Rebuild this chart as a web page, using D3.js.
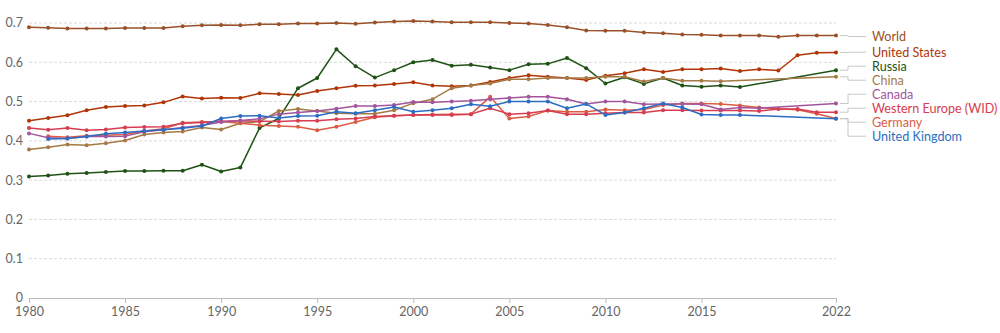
<!DOCTYPE html>
<html>
<head>
<meta charset="utf-8">
<script src="https://cdn.jsdelivr.net/npm/d3@7"></script>
<style>
  html, body { margin: 0; padding: 0; background: #fff; }
  svg { display: block; font-family: Lato, "Open Sans", sans-serif; }
</style>
</head>
<body>
<svg id="chart" width="1000" height="333"></svg>
<script>
// ---- data ----
const years = [1980,1981,1982,1983,1984,1985,1986,1987,1988,1989,
               1990,1991,1992,1993,1994,1995,1996,1997,1998,1999,
               2000,2001,2002,2003,2004,2005,2006,2007,2008,2009,
               2010,2011,2012,2013,2014,2015,2016,2017,2018,2019,
               2020,2021,2022];

const world = [.689,.688,.686,.686,.686,.687,.687,.687,.692,.694,
               .695,.694,.697,.697,.699,.699,.700,.698,.701,.704,
               .705,.704,.702,.702,.702,.700,.699,.695,.689,.681,
               .680,.680,.676,.674,.671,.670,.668,.668,.668,.665,
               .668,.668,.668];
const unitedStates = [.451,.458,.465,.478,.486,.489,.490,.498,.513,.508,
               .510,.509,.521,.519,.517,.527,.534,.540,.541,.545,
               .549,.541,.539,.541,.550,.560,.567,.563,.560,.555,
               .566,.572,.582,.575,.582,.582,.584,.578,.582,.579,
               .618,.624,.625];
const russia = [.309,.312,.316,.318,.321,.323,.323,.324,.324,.339,
               .322,.332,.433,.457,.534,.560,.633,.590,.561,.580,
               .600,.606,.591,.594,.587,.580,.595,.596,.611,.585,
               .546,.562,.545,.560,.541,.538,.541,.537,null,null,
               null,null,.580];
const china = [.378,.384,.391,.389,.394,.401,.416,.421,.424,.434,
               .429,.445,.449,.476,.481,.476,.470,.469,.469,.478,
               .496,.506,.534,.541,.546,.557,.557,.560,.560,.560,
               .563,.563,.551,.560,.553,.553,.552,null,null,null,
               null,null,.563];
const canada = [.419,.408,.406,.411,.411,.412,.423,.428,.434,.439,
               .448,.452,.456,.468,.472,.476,.482,.489,.489,.491,
               .499,.498,.500,.502,.506,.509,.512,.512,.506,.494,
               .500,.500,.493,.494,.494,.493,.480,.485,.483,null,
               null,null,.495];
const westernEurope = [.433,.428,.433,.427,.429,.434,.435,.436,.445,.447,
               .450,.451,.450,.449,.451,.451,.455,.457,.462,.464,
               .466,.466,.466,.468,.483,.468,.470,.477,.468,.468,
               .470,.472,.472,.478,.478,.477,.477,.477,.476,.481,
               .481,.473,.473];
const germany = [null,.412,.409,.413,.414,.416,.425,.431,.446,.448,
               .449,.445,.440,.438,.436,.427,.436,.448,.460,.464,
               .466,.467,.468,.468,.512,.457,.462,.477,.474,.474,
               .480,.478,.480,.491,.495,.495,.494,.490,.485,.482,
               .479,.469,.457];
const unitedKingdom = [null,.405,.406,.411,.418,.421,.425,.428,.432,.438,
               .457,.463,.464,.458,.463,.464,.474,.470,.478,.486,
               .474,.478,.483,.493,.488,.500,.500,.500,.483,.494,
               .466,.472,.483,.495,.485,.467,.466,.466,null,null,
               null,null,.456];

const seriesNames = ["World","United States","Russia","China","Canada","Western Europe (WID)","Germany","United Kingdom"];
const seriesValues = [world, unitedStates, russia, china, canada, westernEurope, germany, unitedKingdom];
const seriesColors = ["#9A5129","#B13507","#1f5316","#A57A45","#A2559C","#D73C50","#DA5D43","#2C6DC2"];

const yTicks = [0, 0.1, 0.2, 0.3, 0.4, 0.5, 0.6, 0.7];
const xTicks = [1980, 1985, 1990, 1995, 2000, 2005, 2010, 2015, 2022];

// ---- chart ----
const svg = d3.select("#chart");
const x = d3.scaleLinear().domain([1980, 2022]).range([29, 836]);
const y = d3.scaleLinear().domain([0, 0.7]).range([298, 23]);

// grid lines
const grid = svg.append("g");
grid.selectAll("line").data(yTicks.filter(d => d > 0)).join("line")
  .attr("x1", x(1980)).attr("x2", x(2022))
  .attr("y1", d => y(d)).attr("y2", d => y(d))
  .attr("stroke", "#dadada").attr("stroke-width", 1)
  .attr("stroke-dasharray", "3,2");

// y labels
svg.append("g").selectAll("text").data(yTicks).join("text")
  .attr("x", 23).attr("y", d => y(d)).attr("dy", "0.35em")
  .attr("text-anchor", "end")
  .attr("fill", "#666").attr("font-size", 12.5)
  .text(d => d === 0 ? "0" : d3.format(".1f")(d));

// x axis
const xAxis = d3.axisBottom(x).tickValues(xTicks).tickFormat(d3.format("d")).tickSizeOuter(0).tickSize(5);
const gx = svg.append("g").attr("transform", "translate(0,298)").call(xAxis);
gx.select(".domain").attr("stroke", "#bbb");
gx.selectAll(".tick line").attr("stroke", "#bbb");
gx.selectAll(".tick text").attr("fill", "#666").attr("font-size", 12.5)
  .attr("font-family", "Lato, sans-serif").attr("y", 9);

// lines
const line = d3.line().x(d => x(d.year)).y(d => y(d.value));
const series = seriesNames.map((name, i) => ({
  name, color: seriesColors[i],
  points: years.map((yr, j) => ({ year: yr, value: seriesValues[i][j] })).filter(p => p.value !== null)
}));

const drawOrder = [0, 1, 2, 3, 6, 5, 4, 7];
drawOrder.forEach(i => {
  const s = series[i];
  const g = svg.append("g");
  g.append("path").datum(s.points)
    .attr("d", line).attr("fill", "none")
    .attr("stroke", s.color).attr("stroke-width", 1.5)
    .attr("stroke-linejoin", "round");
  g.selectAll("circle").data(s.points).join("circle")
    .attr("cx", d => x(d.year)).attr("cy", d => y(d.value))
    .attr("r", 2).attr("fill", s.color);
});

// labels with collision avoidance
const spacing = 14;
let items = series.map(s => {
  const last = s.points[s.points.length - 1];
  return { name: s.name, color: s.color, endY: y(last.value), target: y(last.value) + 1 };
}).sort((a, b) => a.endY - b.endY);

let groups = items.map(it => ({ members: [it] }));
function place(g) {
  const mean = d3.mean(g.members, m => m.target);
  const n = g.members.length;
  g.start = mean - (n - 1) * spacing / 2;
  g.members.forEach((m, k) => m.labelY = g.start + k * spacing);
}
groups.forEach(place);
let changed = true;
while (changed) {
  changed = false;
  for (let k = 0; k < groups.length - 1; k++) {
    const a = groups[k], b = groups[k + 1];
    const aEnd = a.members[a.members.length - 1].labelY;
    if (b.members[0].labelY - aEnd < spacing) {
      const merged = { members: a.members.concat(b.members) };
      place(merged);
      groups.splice(k, 2, merged);
      changed = true;
      break;
    }
  }
}

const lg = svg.append("g");
items.forEach(it => {
  lg.append("path")
    .attr("d", `M840,${it.endY}H848V${it.labelY}H866`)
    .attr("fill", "none").attr("stroke", "#c8c8c8").attr("stroke-width", 1);
  lg.append("text")
    .attr("x", 872).attr("y", it.labelY).attr("dy", "0.35em")
    .attr("fill", it.color).attr("font-size", 12.6)
    .text(it.name);
});
</script>
</body>
</html>
